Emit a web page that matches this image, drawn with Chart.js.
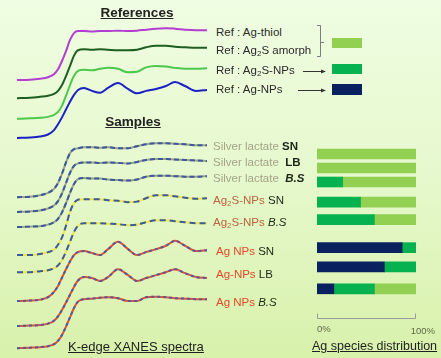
<!DOCTYPE html>
<html>
<head>
<meta charset="utf-8">
<script src="https://cdn.jsdelivr.net/npm/chart.js@4.4.0/dist/chart.umd.min.js"></script>
<style>
  html, body { margin: 0; padding: 0; }
  #fig {
    position: relative; width: 441px; height: 358px; overflow: hidden;
    background: linear-gradient(180deg, #effde2 0%, #e7f9cf 45%, #d8f1ab 100%);
    font-family: "Liberation Sans", Arial, sans-serif;
  }
  canvas { position: absolute; }
  .t { position: absolute; white-space: nowrap; line-height: 1; }
  .ref { font-size: 11.5px; color: #2b2b2b; }
  .smp { font-size: 11.5px; }
  .lac { color: #a3a488; }
  .a2s { color: #b8663e; }
  .anp { color: #e2492b; }
  .cond { color: #1d2616; }
  .b { font-weight: bold; }
  .bi { font-weight: bold; font-style: italic; }
  .i { font-style: italic; }
  .head { font-size: 13.5px; font-weight: bold; color: #222; text-decoration: underline; transform: translateX(-50%); }
  .foot { font-size: 13px; color: #1e1e1e; text-decoration: underline; }
  sub { font-size: 0.7em; vertical-align: -0.25em; line-height: 0; }
</style>
</head>
<body>
<div id="fig">
  <canvas id="spectra" width="215" height="358" style="left:0;top:0"></canvas>
  <canvas id="species" width="151" height="358" style="left:290px;top:0"></canvas>

  <div class="t head" style="left:137px;top:6px">References</div>
  <div class="t head" style="left:133px;top:115px">Samples</div>

  <div class="t ref" style="left:216px;top:27px">Ref : Ag-thiol</div>
  <div class="t ref" style="left:216px;top:45px">Ref : Ag<sub>2</sub>S amorph</div>
  <div class="t ref" style="left:216px;top:65px">Ref : Ag<sub>2</sub>S-NPs</div>
  <div class="t ref" style="left:216px;top:84px">Ref : Ag-NPs</div>

  <div class="t smp" style="left:213px;top:141px"><span class="lac">Silver lactate</span> <span class="cond b">SN</span></div>
  <div class="t smp" style="left:213px;top:157px"><span class="lac">Silver lactate</span>&nbsp; <span class="cond b">LB</span></div>
  <div class="t smp" style="left:213px;top:173px"><span class="lac">Silver lactate</span>&nbsp; <span class="cond bi">B.S</span></div>
  <div class="t smp" style="left:213px;top:195px"><span class="a2s">Ag<sub>2</sub>S-NPs</span> <span class="cond">SN</span></div>
  <div class="t smp" style="left:213px;top:217px"><span class="a2s">Ag<sub>2</sub>S-NPs</span> <span class="cond i">B.S</span></div>
  <div class="t smp" style="left:216px;top:246px"><span class="anp">Ag NPs</span> <span class="cond">SN</span></div>
  <div class="t smp" style="left:216px;top:269px"><span class="anp">Ag-NPs</span> <span class="cond">LB</span></div>
  <div class="t smp" style="left:216px;top:297px"><span class="anp">Ag NPs</span> <span class="cond i">B.S</span></div>

  <div class="t foot" style="left:68px;top:340px">K-edge XANES spectra</div>
  <div class="t foot" style="left:312px;top:340px;font-size:12.5px">Ag species distribution</div>
</div>

<script>
// ---- Ag K-edge XANES: photon energy grid (eV) ----
const energy = [25480, 25493, 25503, 25511, 25517, 25521, 25525, 25529, 25533, 25537, 25541, 25547, 25555,
                25563, 25571, 25581, 25591, 25600, 25609, 25619, 25629, 25638, 25648, 25659, 25670];

// ---- normalized absorption of the references ----
const agThiol    = [0, 0.01, 0.03, 0.06, 0.12, 0.22, 0.39, 0.59, 0.82, 0.96, 1.00, 1.00, 0.99, 1.00, 1.00, 1.01, 1.00, 1.01, 1.03, 1.05, 1.06, 1.05, 1.03, 1.02, 1.02];
const ag2sAmorph = [0, 0.01, 0.03, 0.05, 0.09, 0.15, 0.27, 0.45, 0.66, 0.87, 0.98, 1.00, 0.99, 1.00, 0.99, 0.98, 0.98, 0.99, 1.04, 1.07, 1.07, 1.05, 1.04, 1.03, 1.03];
const ag2sNPsRef = [0, 0.01, 0.02, 0.04, 0.08, 0.14, 0.27, 0.47, 0.69, 0.88, 0.98, 1.00, 0.99, 1.02, 1.04, 1.02, 0.95, 0.96, 1.05, 1.08, 1.07, 1.04, 1.02, 1.02, 1.03];
const agNPsRef   = [0, 0.01, 0.03, 0.07, 0.16, 0.28, 0.42, 0.58, 0.74, 0.88, 0.98, 1.02, 0.96, 0.92, 1.02, 1.12, 1.00, 0.91, 0.96, 1.00, 1.06, 1.14, 1.06, 0.96, 0.98];

// ---- normalized absorption of the samples ----
const lactateSN  = [0, 0.01, 0.04, 0.09, 0.17, 0.29, 0.48, 0.71, 0.90, 0.98, 1.00, 1.02, 1.02, 1.01, 1.02, 1.00, 1.00, 1.04, 1.08, 1.10, 1.10, 1.09, 1.08, 1.06, 1.06];
const lactateLB  = [0, 0.01, 0.03, 0.07, 0.13, 0.22, 0.38, 0.59, 0.80, 0.94, 0.99, 1.01, 1.01, 1.00, 1.01, 1.00, 0.99, 1.02, 1.06, 1.08, 1.08, 1.07, 1.06, 1.05, 1.04];
const lactateBS  = [0, 0.01, 0.02, 0.05, 0.10, 0.17, 0.30, 0.49, 0.70, 0.88, 0.98, 1.00, 0.99, 0.99, 0.97, 0.96, 0.95, 0.97, 1.03, 1.05, 1.05, 1.04, 1.03, 1.03, 1.04];
const ag2sNPsSN  = [0, 0.00, 0.02, 0.06, 0.11, 0.21, 0.36, 0.60, 0.88, 1.06, 1.13, 1.14, 1.14, 1.14, 1.12, 1.11, 1.08, 1.09, 1.16, 1.22, 1.22, 1.20, 1.17, 1.15, 1.16];
const ag2sNPsBS  = [0, 0.00, 0.02, 0.04, 0.08, 0.14, 0.25, 0.42, 0.62, 0.82, 0.95, 1.00, 1.00, 1.00, 0.99, 0.98, 0.96, 0.97, 1.02, 1.06, 1.06, 1.04, 1.02, 1.00, 1.00];
const agNPsSN    = [0, 0.01, 0.03, 0.08, 0.19, 0.31, 0.48, 0.65, 0.81, 0.94, 1.00, 1.02, 0.98, 0.94, 1.06, 1.21, 1.06, 0.94, 1.00, 1.06, 1.13, 1.23, 1.13, 1.02, 1.04];
const agNPsLB    = [0, 0.01, 0.02, 0.05, 0.11, 0.20, 0.33, 0.48, 0.64, 0.80, 0.93, 1.00, 0.98, 0.92, 1.00, 1.16, 1.04, 0.92, 0.98, 1.04, 1.10, 1.16, 1.08, 1.00, 0.98];
const agNPsBS    = [0, 0.01, 0.02, 0.04, 0.08, 0.15, 0.27, 0.44, 0.63, 0.82, 0.95, 1.00, 1.01, 1.03, 1.04, 1.02, 0.96, 0.96, 1.04, 1.05, 1.04, 1.02, 1.01, 1.00, 1.00];

// ---- vertical stacking offset of each spectrum (normalized units) ----
const spectraOffsets = [5.61, 5.24, 4.82, 4.43, 3.22, 2.92, 2.61, 2.04, 1.69, 1.10, 0.59, 0.14];

// ---- Ag species fractions (%) per sample ----
const sampleNames = ['Silver lactate SN', 'Silver lactate LB', 'Silver lactate B.S', 'Ag2S-NPs SN', 'Ag2S-NPs B.S',
                     'Ag NPs SN', 'Ag-NPs LB', 'Ag NPs B.S'];
const fracAgNPs   = [0, 0, 0, 0, 0, 86, 68, 17];
const fracAg2SNPs = [0, 0, 26, 44, 58, 14, 32, 41];
const fracThiol   = [100, 100, 74, 56, 42, 0, 0, 42];
// bar row slots (grouped by sample type)
const rowSlots = [0, 1, 2, 3.44, 4.69, 6.69, 8.06, 9.63];

// ---------------- spectra ----------------
const spectra = [agThiol, ag2sAmorph, ag2sNPsRef, agNPsRef, lactateSN, lactateLB, lactateBS,
                 ag2sNPsSN, ag2sNPsBS, agNPsSN, agNPsLB, agNPsBS];
const spectraNames = ['Ref : Ag-thiol', 'Ref : Ag2S amorph', 'Ref : Ag2S-NPs', 'Ref : Ag-NPs'].concat(sampleNames);
// line styles: solid colour for references; samples = base colour + blue dashes
const spectraStyles = [
  { color: '#b23fd2' }, { color: '#1e5e22' }, { color: '#4cc84c' }, { color: '#1a22c4' },
  { color: '#9da28f', dash: '#3b5a9c', pattern: [5, 3] },
  { color: '#9da28f', dash: '#3b5a9c', pattern: [5, 3] },
  { color: '#9da28f', dash: '#3b5a9c', pattern: [5, 3] },
  { color: '#ece64a', dash: '#3b5aa0', pattern: [6, 4] },
  { color: '#ece64a', dash: '#3b5aa0', pattern: [6, 4] },
  { color: '#e5502c', dash: '#4a5cac', pattern: [3, 3] },
  { color: '#e5502c', dash: '#4a5cac', pattern: [3, 3] },
  { color: '#e5502c', dash: '#4a5cac', pattern: [3, 3] }
];

const lineDatasets = [];
spectra.forEach((mu, k) => {
  const pts = energy.map((e, i) => ({ x: e, y: spectraOffsets[k] + mu[i] }));
  const st = spectraStyles[k];
  lineDatasets.push({ label: spectraNames[k], data: pts, borderColor: st.color, borderWidth: 2,
                      pointRadius: 0, cubicInterpolationMode: 'monotone', order: 2 });
  if (st.dash) {
    lineDatasets.push({ label: spectraNames[k] + ' (dash)', data: pts, borderColor: st.dash, borderWidth: 2,
                        borderDash: st.pattern, pointRadius: 0, cubicInterpolationMode: 'monotone', order: 1 });
  }
});

new Chart(document.getElementById('spectra'), {
  type: 'line',
  data: { datasets: lineDatasets },
  options: {
    responsive: false, animation: false, devicePixelRatio: 1,
    layout: { padding: { left: 17, right: 8, top: 20, bottom: 3 } },
    plugins: { legend: { display: false }, tooltip: { enabled: false } },
    clip: false,
    scales: {
      x: { type: 'linear', min: 25480, max: 25670, display: false },
      y: { type: 'linear', min: 0, max: 6.837, display: false }
    }
  }
});

// ---------------- species distribution ----------------
// empty fractions are skipped so no zero-width sliver is drawn
const toPts = arr => arr.map((v, i) => ({ x: v > 0 ? v : null, y: rowSlots[i] }));

// key swatches, reference bracket/arrows and the 0-100 % bracket
const speciesDecor = {
  id: 'speciesDecor',
  afterDraw(chart) {
    const ctx = chart.ctx, xs = chart.scales.x;
    const ds = chart.data.datasets;
    ctx.save();
    // key swatches (light green = thiol/amorph, green = Ag2S-NPs, navy = Ag-NPs)
    const key = [[ds[2].backgroundColor, 38, 10], [ds[1].backgroundColor, 64, 10], [ds[0].backgroundColor, 84, 11]];
    key.forEach(([c, y, h]) => { ctx.fillStyle = c; ctx.fillRect(42, y, 30, h); });
    // bracket grouping Ag-thiol and Ag2S amorph
    ctx.strokeStyle = '#7d7d7d'; ctx.lineWidth = 1;
    ctx.beginPath();
    ctx.moveTo(27, 25.5); ctx.lineTo(30.5, 25.5); ctx.lineTo(30.5, 56.5); ctx.lineTo(27, 56.5);
    ctx.moveTo(30.5, 42.5); ctx.lineTo(34, 42.5);
    ctx.stroke();
    // arrows
    ctx.strokeStyle = '#333'; ctx.fillStyle = '#333';
    [[13, 71.5], [8, 90.5]].forEach(([x0, y]) => {
      ctx.beginPath(); ctx.moveTo(x0, y); ctx.lineTo(33, y); ctx.stroke();
      ctx.beginPath(); ctx.moveTo(36, y); ctx.lineTo(31, y - 2); ctx.lineTo(31, y + 2); ctx.closePath(); ctx.fill();
    });
    // 0-100 % bracket below the bars
    const x0 = xs.getPixelForValue(0), x1 = xs.getPixelForValue(100);
    const yb = chart.chartArea.bottom - 1.5;
    ctx.strokeStyle = '#9b9b9b';
    ctx.beginPath();
    ctx.moveTo(x0 + 0.5, yb - 5); ctx.lineTo(x0 + 0.5, yb); ctx.lineTo(x1 - 0.5, yb); ctx.lineTo(x1 - 0.5, yb - 5);
    ctx.stroke();
    ctx.fillStyle = '#5d6a47';
    ctx.font = '9.5px "Liberation Sans", Arial, sans-serif';
    ctx.textBaseline = 'middle';
    ctx.textAlign = 'left';  ctx.fillText('0%', x0, yb + 11);
    ctx.textAlign = 'right'; ctx.fillText('100%', x1 + 19, yb + 13);
    ctx.restore();
  }
};

new Chart(document.getElementById('species'), {
  type: 'bar',
  data: {
    datasets: [
      { label: 'Ag-NPs',   data: toPts(fracAgNPs),   backgroundColor: '#0a2160' },
      { label: 'Ag2S-NPs', data: toPts(fracAg2SNPs), backgroundColor: '#06b150' },
      { label: 'Ag-thiol / Ag2S amorph', data: toPts(fracThiol), backgroundColor: '#91d050' }
    ]
  },
  options: {
    indexAxis: 'y',
    responsive: false, animation: false, devicePixelRatio: 1,
    layout: { padding: { left: 27, right: 25, top: 128, bottom: 38 } },
    datasets: { bar: { barThickness: 10, borderWidth: 0, borderSkipped: false } },
    plugins: { legend: { display: false }, tooltip: { enabled: false } },
    scales: {
      x: { type: 'linear', min: 0, max: 100, stacked: true, display: false },
      y: { type: 'linear', min: -1, max: 11, reverse: true, stacked: true, display: false }
    }
  },
  plugins: [speciesDecor]
});
</script>
</body>
</html>
